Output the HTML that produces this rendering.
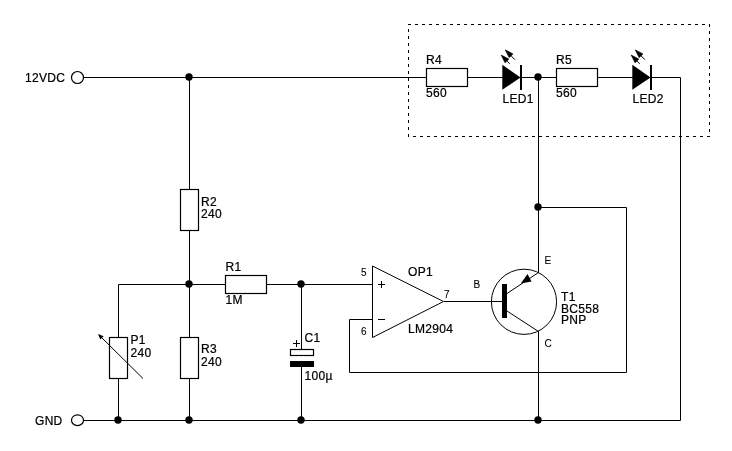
<!DOCTYPE html>
<html><head><meta charset="utf-8">
<style>
html,body{margin:0;padding:0;background:#fff;}
body{width:732px;height:451px;overflow:hidden;}
svg{display:block;will-change:transform;transform:translateZ(0);}
text{font-family:"Liberation Sans",sans-serif;font-size:12px;fill:#000;stroke:#000;stroke-width:0.22px;letter-spacing:0.3px;}
.s{font-size:10px;stroke-width:0.1px;letter-spacing:0;}
.w{stroke:#000;stroke-width:1;fill:none;}
.r{stroke:#000;stroke-width:1.2;fill:#fff;}
.f{fill:#000;stroke:none;}
</style></head><body>
<svg width="732" height="451" viewBox="0 0 732 451">
<rect width="732" height="451" fill="#fff"/>
<!-- dashed box -->
<g class="w" stroke-dasharray="3 4">
<path d="M408 24.5H710"/><path d="M709.5 24V137"/><path d="M710 136.5H408"/><path d="M408.5 137V24"/>
</g>
<!-- wires -->
<g class="w">
<path d="M84 77.5H680.5V420.5H84"/>
<path d="M189.5 77.5V420.5"/>
<path d="M118.5 420.5V284.5H372.5"/>
<path d="M301.5 284.5V420.5"/>
<path d="M538.5 77.5V272.5M538.5 331.5V420.5"/>
<path d="M372.5 319.5H349.5V372.5H626.5V207.5H538.5"/>
<path d="M444 301.5H503"/>
</g>
<!-- terminals -->
<circle cx="77.5" cy="77.5" r="6" class="r"/>
<ellipse cx="77.5" cy="420.2" rx="6" ry="5.4" class="r"/>
<!-- resistors -->
<rect x="426.5" y="68.5" width="41" height="18" class="r"/>
<rect x="556.5" y="68.5" width="41" height="18" class="r"/>
<rect x="225.5" y="275.5" width="41" height="18" class="r"/>
<rect x="180.5" y="189.5" width="18" height="41" class="r"/>
<rect x="180.5" y="337.5" width="18" height="41" class="r"/>
<rect x="109.5" y="337.5" width="18" height="41" class="r"/>
<!-- pot arrow -->
<path d="M143 378.5L100 336" class="w"/>
<path d="M98 334L103.6 336.2L100.3 339.6Z" class="f"/>
<!-- capacitor -->
<rect x="290.5" y="349.5" width="23" height="6" class="r"/>
<rect x="290" y="361" width="24" height="6" class="f"/>
<rect x="299" y="356.2" width="5" height="4.8" fill="#fff"/>
<path d="M293 343.5H300M296.5 340V347" class="w"/>
<!-- LEDs -->
<g id="led">
<path d="M502.3 64.8V89.8L520.5 77.4Z" class="f"/>
<rect x="520" y="65" width="2" height="25" class="f"/>
<path d="M509.7 63.8L504 58M514.8 59.6L508 52.6" class="w" stroke-width="1.2"/>
<path d="M501.2 55.1L508.8 59.1L505.1 62.8Z" style="fill:#000;stroke:#000;stroke-width:0.7;stroke-linejoin:miter"/>
<path d="M505.3 49.9L512.9 53.9L509.2 57.6Z" style="fill:#000;stroke:#000;stroke-width:0.7;stroke-linejoin:miter"/>
</g>
<use href="#led" x="130" y="0"/>
<!-- opamp -->
<path d="M372.5 266V337.5L443.5 301.5Z" class="r" style="stroke-width:1"/>
<path d="M378 284.5H385M381.5 281V288M378 319.5H385" class="w"/>
<!-- transistor -->
<circle cx="524" cy="301.8" r="32.6" class="w"/>
<rect x="502" y="284" width="5" height="34" class="f"/>
<path d="M507 293.5L538.5 272.5M507 311L538.5 331.5" class="w"/>
<path d="M520.8 283.4L527.5 274L531.5 281.5Z" class="f"/>
<!-- junctions -->
<g class="f">
<circle cx="189" cy="77" r="3.7"/>
<circle cx="538" cy="77" r="3.7"/>
<circle cx="538" cy="207" r="3.7"/>
<circle cx="189" cy="284" r="3.7"/>
<circle cx="301" cy="284" r="3.7"/>
<circle cx="118" cy="420" r="3.7"/>
<circle cx="189" cy="420" r="3.7"/>
<circle cx="301" cy="420" r="3.7"/>
<circle cx="538" cy="420" r="3.7"/>
</g>
<!-- labels -->
<text x="25" y="82">12VDC</text>
<text x="35" y="425">GND</text>
<text x="426" y="63.5">R4</text>
<text x="426" y="96.5">560</text>
<text x="556" y="63.5">R5</text>
<text x="556" y="96.5">560</text>
<text x="502.5" y="102.5">LED1</text>
<text x="632.5" y="102.5">LED2</text>
<text x="201" y="205.5">R2</text>
<text x="201" y="217.5">240</text>
<text x="225.5" y="270.5">R1</text>
<text x="225.5" y="303.5">1M</text>
<text x="130.5" y="344">P1</text>
<text x="130.5" y="356.5">240</text>
<text x="201" y="353">R3</text>
<text x="201" y="365.5">240</text>
<text x="304.5" y="342">C1</text>
<text x="304.5" y="379.5">100µ</text>
<text x="408" y="276">OP1</text>
<text x="408" y="332.5">LM2904</text>
<text x="561" y="300.5">T1</text>
<text x="561" y="312.5">BC558</text>
<text x="561" y="323.8">PNP</text>
<text class="s" x="361" y="275.5">5</text>
<text class="s" x="361" y="334.7">6</text>
<text class="s" x="444" y="298">7</text>
<text class="s" x="473.5" y="288">B</text>
<text class="s" x="544.5" y="264">E</text>
<text class="s" x="544.5" y="347">C</text>
</svg>
</body></html>
